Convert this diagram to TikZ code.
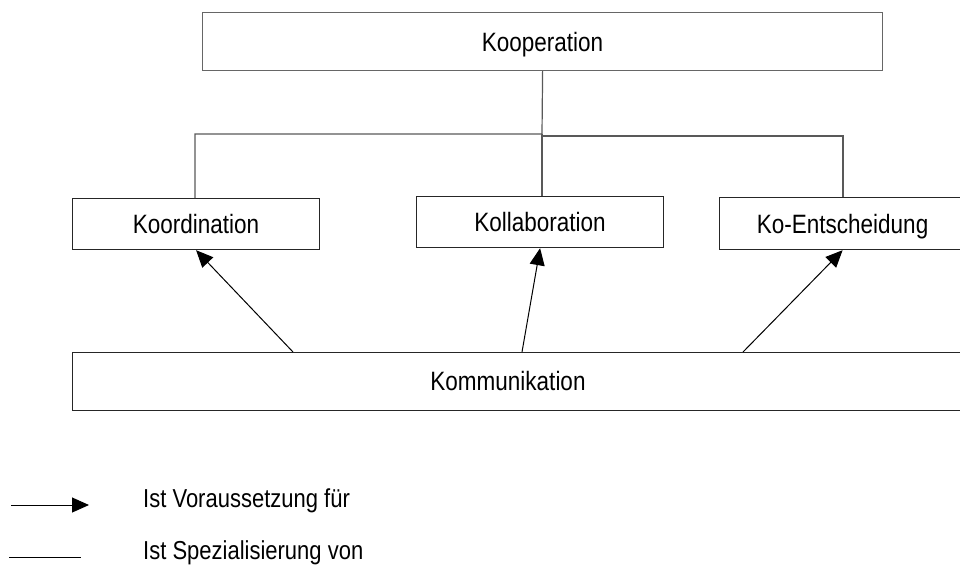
\documentclass[tikz,border=0pt]{standalone}
\usepackage{fontspec}
\setmainfont{Liberation Sans}
\usetikzlibrary{arrows.meta}
\newcommand{\tallTxt}[1]{\scalebox{1}[1.18]{#1}}
\begin{document}
\begin{tikzpicture}[x=1pt,y=-1pt,
  box/.style={draw=black!85, line width=1.2pt, rectangle, inner sep=0pt, anchor=north west,
    text height=19pt, text depth=0pt, font=\fontsize{22.5}{26}\selectfont},
  tree/.style={draw=black!65, line width=1.2pt},
  prereq/.style={draw=black, line width=1pt, -{Triangle[length=17pt,width=15pt]}},
  lbl/.style={anchor=base west, inner sep=0pt, font=\fontsize{22}{26}\selectfont}]
\useasboundingbox (0,0) rectangle (960,566);
\clip (0,0) rectangle (960,566);
% boxes
\node[box, draw=black!60, minimum width=680pt, minimum height=58pt] (koop) at (202,12) {\tallTxt{Kooperation}};
\node[box, minimum width=247pt, minimum height=51pt] (koord) at (72,198) {\tallTxt{Koordination}};
\node[box, minimum width=247pt, minimum height=51pt] (koll) at (416,196) {\tallTxt{Kollaboration}};
\node[box, minimum width=246pt, minimum height=52pt] (koent) at (719,197) {\tallTxt{Ko-Entscheidung}};
\node[box, minimum width=900pt, minimum height=58pt] (komm) at (72,352) {};
\node[font=\fontsize{22.5}{26}\selectfont, inner sep=0pt, text height=19pt, text depth=0pt] (kommtext) at (508,381) {\tallTxt{Kommunikation}};
% tree (specialisation)
\coordinate (j) at (542,134);
\coordinate (jl) at (195,134);
\coordinate (jr) at (843,136);
\coordinate (jm) at (542,136);
\draw[tree] (koop.south) -- (j) -- (jl) -- (jl |- koord.north);
\draw[tree] (j) -- (jm) -- (jr) -- (jr |- koent.north);
\draw[tree] (jm) -- (jm |- koll.north);
% prerequisites
\coordinate (s1) at (293,352);
\coordinate (s2) at (522,352);
\coordinate (s3) at (743,352);
\draw[prereq] (s1) -- (koord.south);
\draw[prereq] (s2) -- (koll.south);
\draw[prereq] (s3) -- (koent.south);
% legend
\coordinate (la) at (11,505);
\coordinate (lb) at (89,505);
\coordinate (lc) at (9,557);
\coordinate (ld) at (81,557);
\draw[prereq] (la) -- (lb);
\draw[line width=1pt] (lc) -- (ld);
\node[lbl] (t1) at (143,507) {\tallTxt{Ist Voraussetzung für}};
\node[lbl] (t2) at (143,559) {\tallTxt{Ist Spezialisierung von}};
\end{tikzpicture}
\end{document}
